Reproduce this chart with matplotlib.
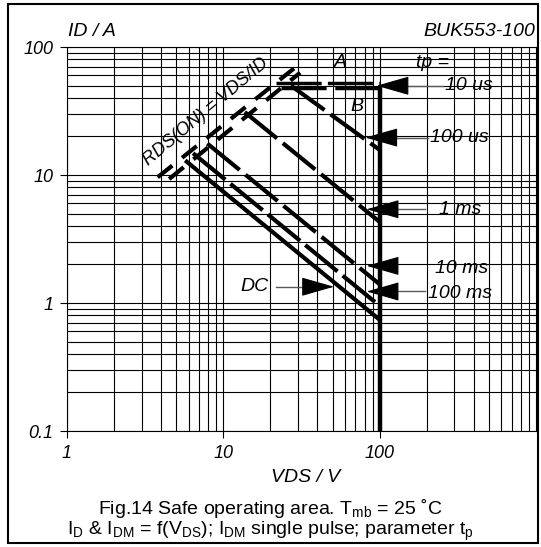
import matplotlib
matplotlib.use('Agg')
import matplotlib.pyplot as plt
from matplotlib.patches import Rectangle
from matplotlib.ticker import FixedLocator, FixedFormatter, NullFormatter, LogLocator

plt.rcParams['font.family'] = ['Liberation Sans', 'DejaVu Sans']
plt.rcParams['mathtext.fontset'] = 'custom'
plt.rcParams['mathtext.rm'] = 'Liberation Sans'
plt.rcParams['mathtext.it'] = 'Liberation Sans:italic'

# SOA curves (VDS in V, ID in A)
dc_v = [5.7, 100]
dc_i = [13.0, 0.74]
ms100_v = [6.4, 100]
ms100_i = [14.8, 0.95]
ms10_v = [7.9, 100]
ms10_i = [17.6, 1.4]
ms1_v = [13.7, 100]
ms1_i = [31.0, 4.3]
us100_v = [27, 100]
us100_i = [50.0, 15.7]
# current limit lines for versions A and B
lim_a_v = [21.6, 100]
lim_a_i = [52.6, 52.6]
lim_b_v = [23.3, 100]
lim_b_i = [47.6, 47.6]
# RDS(ON) limit lines
rds_a_v = [3.8, 28.3]
rds_a_i = [9.6, 68.0]
rds_b_v = [4.5, 31.0]
rds_b_i = [9.3, 63.0]
# voltage limit
vmax_v = [100, 100]
vmax_i = [50.0, 0.1]

# pulse-length markers
tp_labels = ['10 us', '100 us', '1 ms', '10 ms', '100 ms']
tp_tip_v = [95.6, 81, 82.6, 82.6, 82.6]
tp_tail_v = [256, 205, 196, 126, 196]
tp_i = [49.8, 19.6, 5.4, 1.95, 1.23]
tp_text_v = [263, 211, 238, 227, 205]
tp_text_i = [49.8, 19.6, 5.4, 1.85, 1.18]

x_ticks = [1, 10, 100]
x_ticklabels = ['1', '10', '100']
y_ticks = [0.1, 1, 10, 100]
y_ticklabels = ['0.1', '1', '10', '100']

fig = plt.figure(figsize=(5.41, 5.47), dpi=100)
ax = fig.add_axes([67 / 541, 1 - 431 / 547, (536 - 67) / 541, (431 - 47) / 547])
ax.set_xscale('log')
ax.set_yscale('log')
ax.set_xlim(1, 1000)
ax.set_ylim(0.1, 100)

ax.xaxis.set_major_locator(FixedLocator(x_ticks))
ax.xaxis.set_major_formatter(FixedFormatter(x_ticklabels))
ax.yaxis.set_major_locator(FixedLocator(y_ticks))
ax.yaxis.set_major_formatter(FixedFormatter(y_ticklabels))
for a in (ax.xaxis, ax.yaxis):
    a.set_minor_locator(LogLocator(base=10, subs=range(2, 10)))
    a.set_minor_formatter(NullFormatter())
ax.grid(which='both', color='black', lw=0.8)
ax.tick_params(which='major', direction='out', length=5, width=0.8, labelsize=13, pad=5)
ax.tick_params(which='minor', length=0)
for lab in ax.get_xticklabels() + ax.get_yticklabels():
    lab.set_fontstyle('italic')
for sp in ax.spines.values():
    sp.set_linewidth(0.8)

lw = 3
ax.plot(dc_v, dc_i, color='black', lw=lw, solid_capstyle='butt', zorder=5)
ax.plot(ms100_v, ms100_i, color='black', lw=lw, dashes=(10, 1.6), zorder=5)
ax.plot(ms10_v, ms10_i, color='black', lw=lw, dashes=(10, 1.8), zorder=5)
ax.plot(ms1_v, ms1_i, color='black', lw=lw, dashes=(10, 1.8), zorder=5)
ax.plot(us100_v, us100_i, color='black', lw=lw, dashes=(10, 1.8), zorder=5)
ax.plot(lim_a_v, lim_a_i, color='black', lw=2.5, dashes=(13, 1.8), zorder=5)
ax.plot(lim_b_v, lim_b_i, color='black', lw=2.5, dashes=(13, 2.5), zorder=5)
ax.plot(rds_a_v, rds_a_i, color='black', lw=lw, dashes=(4.5, 3), zorder=5)
ax.plot(rds_b_v, rds_b_i, color='black', lw=lw, dashes=(4.5, 3), zorder=5)
ax.plot(vmax_v, vmax_i, color='black', lw=3.2, solid_capstyle='butt', zorder=5)

head = dict(arrowstyle='-|>,head_length=2.1,head_width=0.6', mutation_scale=10,
            color='black', lw=0.8, shrinkA=0, shrinkB=0)
for lab, tip, tail, i, tv, ti in zip(tp_labels, tp_tip_v, tp_tail_v, tp_i, tp_text_v, tp_text_i):
    ax.plot([tip * 1.3, tail], [i, i], color='0.35', lw=1, zorder=6)
    ax.annotate('', xy=(tip, i), xytext=(tip * 1.35, i), arrowprops=head, zorder=6)
    ax.text(tv, ti, lab, fontsize=14, fontstyle='italic', ha='left', va='center', zorder=6)

ax.plot([21.8, 40], [1.34, 1.34], color='0.35', lw=1, zorder=6)
ax.annotate('', xy=(51, 1.34), xytext=(37, 1.34), arrowprops=head, zorder=6)
ax.text(19.6, 1.34, 'DC', fontsize=14, fontstyle='italic', ha='right', va='center')
ax.text(172, 75, 'tp =', fontsize=14, fontstyle='italic', ha='left', va='center')
ax.text(56.5, 75, 'A', fontsize=14, fontstyle='italic', ha='center', va='center')
ax.text(71.4, 34, 'B', fontsize=14, fontstyle='italic', ha='center', va='center')
ax.text(7.7, 31, 'RDS(ON) = VDS/ID', fontsize=13, fontstyle='italic', ha='center',
        va='center', rotation=40, rotation_mode='anchor')

fig.text(68 / 541, 1 - 32 / 547, 'ID / A', fontsize=14, fontstyle='italic', ha='left', va='center')
fig.text(535 / 541, 1 - 32 / 547, 'BUK553-100', fontsize=14, fontstyle='italic', ha='right', va='center')
fig.text(306 / 541, 1 - 478 / 547, 'VDS / V', fontsize=14, fontstyle='italic', ha='center', va='center')
fig.text(270 / 541, 1 - 508 / 547, r'Fig.14 Safe operating area. T$_{\mathrm{mb}}$ = 25 ˚C',
         fontsize=14, ha='center', va='center')
fig.text(270 / 541, 1 - 531 / 547,
         r'I$_{\mathrm{D}}$ & I$_{\mathrm{DM}}$ = f(V$_{\mathrm{DS}}$); I$_{\mathrm{DM}}$ single pulse; parameter t$_{\mathrm{p}}$',
         fontsize=14, ha='center', va='center')

fig.patches.append(Rectangle((8 / 541, 4 / 547), 530 / 541, 539 / 547, transform=fig.transFigure,
                             fill=False, edgecolor='black', lw=1.5))

fig.savefig('out.png', dpi=100)
